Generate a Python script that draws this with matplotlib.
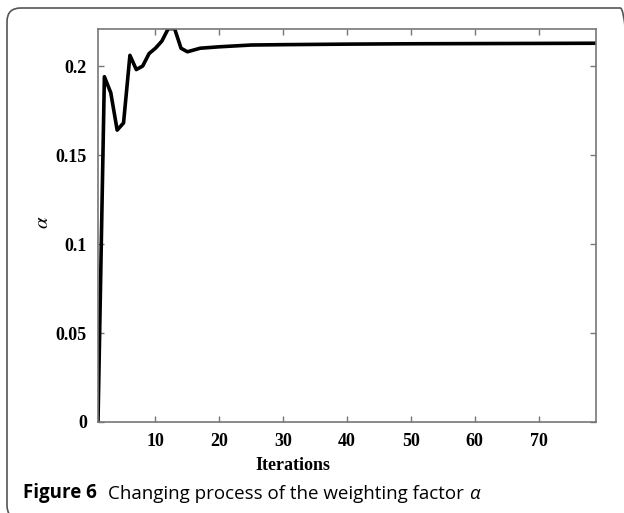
import numpy as np
import matplotlib.pyplot as plt
from matplotlib.patches import FancyBboxPatch

# values
iterations = [1, 2, 3, 4, 5, 6, 7, 8, 9, 10, 11, 12, 13, 14, 15, 16, 17, 20, 25, 30, 40, 50, 60, 70, 79]
alpha = [0.0, 0.194, 0.185, 0.164, 0.168, 0.206, 0.198, 0.200, 0.207, 0.210, 0.214, 0.221, 0.221,
         0.210, 0.208, 0.209, 0.210, 0.2108, 0.2118, 0.2120, 0.2123, 0.2125, 0.2126, 0.2127, 0.2128]
xticks = [10, 20, 30, 40, 50, 60, 70]
yticks = [0, 0.05, 0.1, 0.15, 0.2]
ytick_labels = ["0", "0.05", "0.1", "0.15", "0.2"]

W, H = 624, 513
fig = plt.figure(figsize=(W / 100, H / 100), dpi=100)

# rounded frame around figure + caption (right and bottom edges run off the image)
frame = FancyBboxPatch((7 / W, -6 / H), (634 - 7) / W, (H - 8 + 6) / H,
                       boxstyle="round,pad=0,rounding_size=0.022",
                       mutation_aspect=W / H,
                       transform=fig.transFigure, facecolor="none",
                       edgecolor="#555555", linewidth=1.2, clip_on=False)
fig.patches.append(frame)

ax = fig.add_axes([98 / W, 1 - 422 / H, (596 - 98) / W, (422 - 29) / H])
ax.plot(iterations, alpha, color="black", linewidth=2.6, solid_joinstyle="round")
ax.set_xlim(1, 79)
ax.set_ylim(0, 0.2208)

ax.set_xticks(xticks)
ax.set_yticks(yticks)
ax.set_yticklabels(ytick_labels)
ax.tick_params(direction="in", top=True, right=True, length=4, width=1,
               color="#777777", pad=8)
for lab in ax.get_xticklabels() + ax.get_yticklabels():
    lab.set_fontfamily("Liberation Serif")
    lab.set_fontweight("bold")
    lab.set_fontsize(13)
for sp in ax.spines.values():
    sp.set_color("#777777")
    sp.set_linewidth(1.2)

fig.text(293 / W, 1 - 465 / H, "Iterations", ha="center", va="center",
         fontfamily="Liberation Serif", fontweight="bold", fontsize=13)
fig.text(42 / W, 1 - 222 / H, r"$\alpha$", ha="center", va="center", rotation=90,
         fontsize=15, math_fontfamily="stix")

# caption, pieces chained one after another
cap_y = 1 - 493 / H
t1 = fig.text(23 / W, cap_y, "Figure 6", ha="left", va="center",
              fontfamily="Open Sans", fontweight="bold", fontsize=13.5)
t2 = ax.annotate("Changing process of the weighting factor", xy=(1, 0), xycoords=t1,
                 xytext=(8, 0), textcoords="offset points", ha="left", va="bottom",
                 fontfamily="Open Sans", fontsize=13.5, annotation_clip=False)
ax.annotate("α", xy=(1, 0), xycoords=t2, xytext=(4, 0), textcoords="offset points",
            ha="left", va="bottom", fontfamily="Open Sans", fontstyle="italic",
            fontsize=13.5, annotation_clip=False)

fig.savefig("out.png", dpi=100)
